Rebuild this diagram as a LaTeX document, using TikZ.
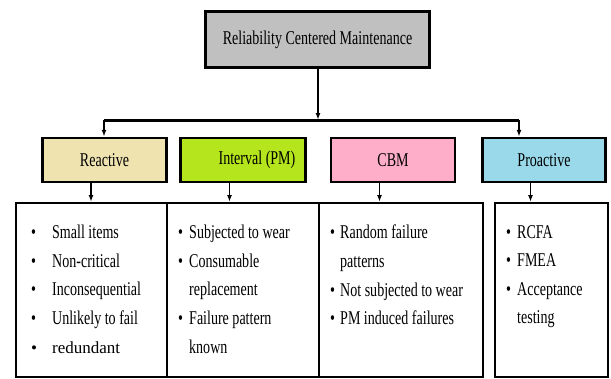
\documentclass[tikz,border=0pt]{standalone}
\usepackage{fontspec}
\setmainfont{Liberation Serif}[FakeStretch=0.72]
\newfontfamily\widefont{Liberation Serif}
\usetikzlibrary{arrows.meta,calc}
\usepackage{xcolor}
\definecolor{topgray}{HTML}{C0C0C0}
\definecolor{reacfill}{HTML}{EFE4B0}
\definecolor{intvfill}{HTML}{B5E61D}
\definecolor{cbmfill}{HTML}{FFAEC9}
\definecolor{proafill}{HTML}{99D9EA}
\newcommand{\bl}[1]{\makebox[#1][l]{\textbullet}}

\tikzset{
  hdbox/.style={draw,line width=2.5pt,minimum height=44pt,inner sep=0pt,font=\fontsize{19.5}{21}\selectfont},
  listbox/.style={draw,line width=1.6pt,minimum height=174pt,inner sep=0pt,anchor=north west},
  listtxt/.style={align=left,anchor=north west,inner sep=0pt,font=\fontsize{19.5}{28.6}\selectfont},
  arr/.style={line width=1.4pt,-{Latex[length=7pt,width=5pt]}}
}

\begin{document}
\begin{tikzpicture}[x=1pt,y=-1pt]
        \useasboundingbox (0,0) rectangle (611,378);
        % top box
        \node[draw,line width=3pt,fill=topgray,minimum width=224pt,minimum height=56pt,inner sep=0pt,
              font=\fontsize{19.5}{21}\selectfont] (rcm) at (317.5,39.5) {Reliability Centered Maintenance};
        % category boxes
        \node[hdbox,fill=reacfill,minimum width=124pt] (reac) at (104.5,160) {Reactive};
        \node[hdbox,fill=intvfill,minimum width=125pt] (intv) at (243,160) {\hspace*{28pt}Interval (PM)};
        \node[hdbox,fill=cbmfill,minimum width=124pt] (cbm) at (393,160) {CBM};
        \node[hdbox,fill=proafill,minimum width=123pt] (proa) at (544,160) {Proactive};
        % bus
        \coordinate (bus) at (318,120);
        \coordinate (busL) at (104,120);
        \coordinate (busR) at (519,120);
        \draw[arr] (rcm.south -| bus) -- (bus);
        \draw[line width=3pt] (busL) -- (busR);
        \draw[arr] (busL) -- (busL |- reac.north);
        \draw[arr] (busR) -- (busR |- proa.north);
        % list boxes
        \node[listbox,minimum width=151pt] (reacL) at (15,202) {};
        \node[listbox,minimum width=152pt] (intvL) at (166,202) {};
        \node[listbox,minimum width=164pt] (cbmL) at (318,202) {};
        \node[listbox,minimum width=113pt] (proaL) at (494,202) {};
        \foreach \n in {reac,intv,cbm,proa}
          \draw[arr] ([xshift=-13.5pt]\n.south) -- ([xshift=-13.5pt]\n.south |- \n L.north);
        % lists
        \node[listtxt] (reacT) at (31,225) {\bl{21pt}Small items\\ \bl{21pt}Non-critical\\
          \bl{21pt}Inconsequential\\ \bl{21pt}Unlikely to fail\\
          {\widefont\fontsize{17}{28.6}\selectfont\bl{21pt}redundant}};
        \node[listtxt] (intvT) at (178,225) {\bl{11pt}Subjected to wear\\ \bl{11pt}Consumable\\
          \hspace*{11pt}replacement\\ \bl{11pt}Failure pattern\\ \hspace*{11pt}known};
        \node[listtxt] (cbmT) at (330,225) {\bl{10pt}Random failure\\ \hspace*{10pt}patterns\\
          \bl{10pt}Not subjected to wear\\ \bl{10pt}PM induced failures};
        \node[listtxt] (proaT) at (506,225) {\bl{11pt}RCFA\\ \bl{11pt}FMEA\\
          \bl{11pt}Acceptance\\ \hspace*{11pt}testing};
\end{tikzpicture}
\end{document}
